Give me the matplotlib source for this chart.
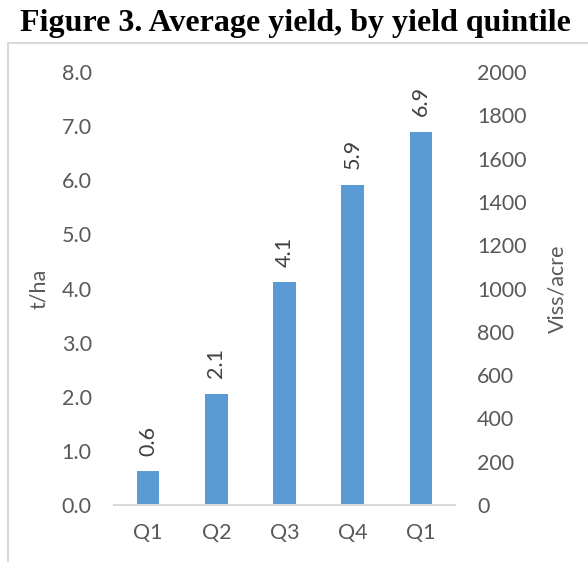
import matplotlib
matplotlib.use('Agg')
import matplotlib.pyplot as plt
from matplotlib.lines import Line2D
import numpy as np

categories = ['Q1', 'Q2', 'Q3', 'Q4', 'Q1']
yield_tha = [0.62, 2.06, 4.12, 5.92, 6.90]
labels = ['0.6', '2.1', '4.1', '5.9', '6.9']

grey = '#595959'
bar_col = '#5B9BD5'
plt.rcParams['font.family'] = ['Lato', 'DejaVu Sans']
fs = 15.5

fig = plt.figure(figsize=(5.88, 5.62), dpi=100)
ax = fig.add_axes([0.1939, 0.1014, 0.5799, 0.7705])

x = np.arange(len(categories))
ax.bar(x, yield_tha, width=0.33, color=bar_col)
for xi, v, t in zip(x, yield_tha, labels):
    ax.text(xi, v + 0.28, t, rotation=90, ha='center', va='bottom',
            fontsize=fs, color='#404040')

ax.set_xlim(-0.5, len(categories) - 0.5)
ax.set_ylim(0, 8)
ax.set_yticks(np.arange(0, 8.1, 1))
ax.set_yticklabels(['%.1f' % v for v in np.arange(0, 8.1, 1)])
ax.set_xticks(x)
ax.set_xticklabels(categories)
ax.tick_params(length=0, labelsize=fs, labelcolor=grey)
ax.tick_params(axis='y', pad=16)
ax.tick_params(axis='x', pad=13)
for s in ['top', 'left', 'right']:
    ax.spines[s].set_visible(False)
ax.spines['bottom'].set_color('#D9D9D9')
ax.spines['bottom'].set_linewidth(1.5)
ax.set_ylabel('t/ha', fontsize=fs, color=grey, labelpad=9)

ax2 = ax.twinx()
ax2.set_ylim(0, 2000)
ax2.set_yticks(np.arange(0, 2001, 200))
ax2.tick_params(length=0, labelsize=fs, labelcolor=grey, pad=16)
for s in ax2.spines.values():
    s.set_visible(False)
ax2.set_ylabel('Viss/acre', fontsize=fs, color=grey, labelpad=15)

# chart frame (top and left edge visible)
fig.add_artist(Line2D([8 / 588, 1], [1 - 43 / 562, 1 - 43 / 562],
                      color='#D9D9D9', lw=1.5, transform=fig.transFigure))
fig.add_artist(Line2D([8 / 588, 8 / 588], [0, 1 - 43 / 562],
                      color='#D9D9D9', lw=1.5, transform=fig.transFigure))

fig.text(0.503, 1 - 24 / 562, 'Figure 3. Average yield, by yield quintile',
         ha='center', va='center', fontsize=23, fontweight='bold',
         family='Liberation Serif')

fig.savefig('out.png', dpi=100)
